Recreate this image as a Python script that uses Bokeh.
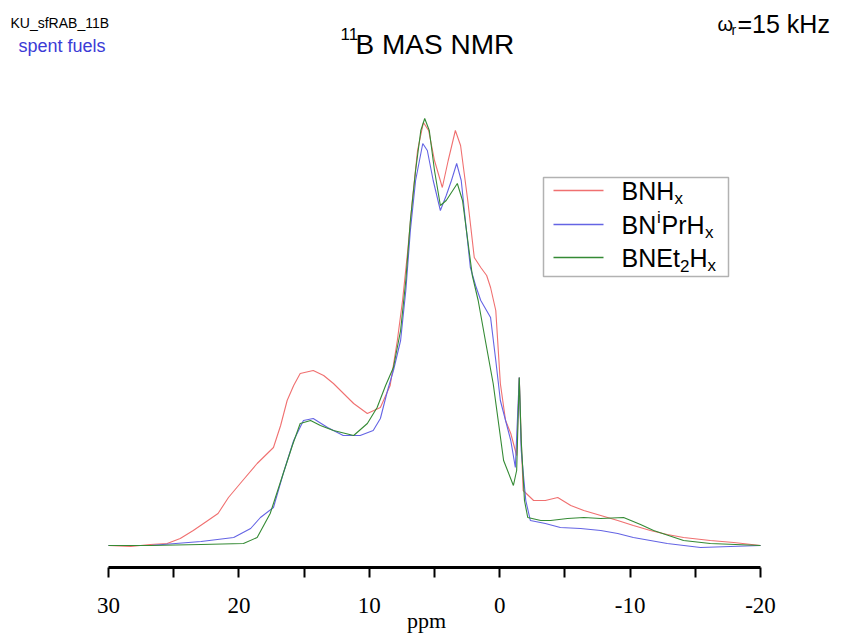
from bokeh.plotting import figure
from bokeh.models import Range1d, FixedTicker, Label, BoxAnnotation, Arrow
from bokeh.embed import file_html
from bokeh.resources import INLINE

# chemical shift (ppm) and intensity (a.u.)
red_ppm = [30.0, 28.3, 26.8, 25.5, 24.5, 23.5, 22.6, 21.6, 20.8, 19.9, 18.6, 17.35, 16.8, 16.3, 15.8, 15.3,
           14.3, 13.5, 12.75, 11.2, 10.15, 9.15, 8.4, 7.85, 7.45, 7.05, 6.7, 6.3, 5.85, 5.45, 5.0, 4.4,
           3.95, 3.4, 3.0, 2.45, 1.95, 1.45, 1.0, 0.7, 0.3, -0.05, -0.45, -0.85, -1.3, -1.5, -1.65, -1.8,
           -2.6, -3.5, -4.45, -5.45, -6.45, -7.75, -9.05, -10.25, -11.55, -12.85, -14.1, -16.15, -17.95, -20.0]
red_int = [0, -1, 1, 2, 7, 15, 23, 32, 48, 62, 82, 98, 120, 145, 160, 172,
           175, 170, 162, 142, 132, 138, 160, 205, 245, 295, 345, 395, 423, 415, 385, 358,
           385, 415, 400, 345, 288, 278, 270, 258, 235, 162, 125, 112, 90, 168, 105, 55,
           45, 45, 48, 40, 35, 30, 25, 20, 15, 11, 8, 5, 3, 0]

blue_ppm = [30.0, 26.8, 22.9, 20.4, 19.1, 18.35, 17.35, 16.6, 15.8, 15.05, 14.3, 13.2, 12.0, 10.7, 9.7, 9.15,
            8.6, 8.15, 7.6, 7.2, 6.85, 6.45, 5.9, 5.55, 5.1, 4.55, 4.1, 3.7, 3.3, 2.95, 2.55, 2.25,
            1.85, 1.45, 0.7, 0.3, -0.05, -0.85, -1.2, -1.5, -1.65, -2.0, -2.35, -3.5, -4.65, -6.2,
            -7.75, -9.05, -10.25, -11.55, -12.85, -15.4, -17.7, -20.0]
blue_int = [0, 0, 4, 8, 17, 28, 38, 72, 105, 125, 127, 118, 110, 110, 115, 127,
            155, 175, 205, 255, 315, 365, 402, 395, 365, 335, 350, 365, 382, 365, 315, 278,
            260, 245, 228, 185, 145, 105, 78, 168, 95, 45, 25, 22, 18, 17,
            15, 12, 8, 5, 2, -2, -1, 0]

green_ppm = [30.0, 26.8, 22.9, 19.65, 18.6, 17.6, 16.6, 15.9, 15.3, 14.5, 13.75, 12.75, 11.2, 10.15, 9.4, 8.75,
             8.15, 7.6, 7.2, 6.85, 6.45, 6.05, 5.75, 5.4, 5.0, 4.55, 4.1, 3.6, 3.25, 2.85, 2.45, 2.1,
             1.65, 1.1, 0.5, -0.3, -1.05, -1.3, -1.5, -1.65, -1.9, -2.15, -3.15, -3.9, -5.2, -6.45,
             -7.75, -9.5, -10.8, -11.8, -12.95, -14.1, -16.15, -20.0]
green_int = [0, 0, 1, 2, 8, 32, 72, 100, 122, 125, 120, 115, 110, 122, 138, 160,
             178, 215, 265, 325, 375, 415, 427, 415, 375, 340, 345, 355, 362, 345, 305, 270,
             245, 205, 162, 85, 60, 75, 168, 105, 45, 28, 25, 25, 27, 28,
             27, 28, 21, 15, 10, 5, 2, 0]

x_ticks = [30, 20, 10, 0, -10, -20]
x_tick_labels = ["30", "20", "10", "0", "-10", "-20"]
x_minor = [25, 15, 5, -5, -15]
x_axis_limits = (-20, 30)

RED = "#f07070"
BLUE = "#6464e4"
GREEN = "#348a34"

# layout: canvas 852x635, spectrum axis spans pixels 108..760, axis line at y=567
W, H = 852, 635
AX_L, AX_R, AX_Y = 108, 760, 567
BASE_Y = 545  # pixel row of the zero intensity
ppm_per_px = (x_axis_limits[1] - x_axis_limits[0]) / (AX_R - AX_L)
x_start = x_axis_limits[1] + AX_L * ppm_per_px
x_end = x_axis_limits[1] - (W - AX_L) * ppm_per_px
y_start = -(AX_Y - BASE_Y)
y_end = BASE_Y

p = figure(width=W, height=H, output_backend="svg", toolbar_location=None,
           x_range=Range1d(x_start, x_end), y_range=Range1d(y_start, y_end),
           min_border_left=0, min_border_right=0, min_border_top=0, min_border_bottom=H - AX_Y,
           y_axis_location=None)
p.grid.visible = False
p.outline_line_color = None
p.background_fill_color = "white"
p.border_fill_color = "white"

p.line(red_ppm, red_int, line_color=RED, line_width=1.1)
p.line(blue_ppm, blue_int, line_color=BLUE, line_width=1.1)
p.line(green_ppm, green_int, line_color=GREEN, line_width=1.1)

ax = p.xaxis[0]
ax.bounds = x_axis_limits
ax.ticker = FixedTicker(ticks=x_ticks, minor_ticks=x_minor)
ax.major_label_overrides = {t: s for t, s in zip(x_ticks, x_tick_labels)}
ax.axis_line_width = 3
ax.axis_line_color = "black"
ax.major_tick_in = 0
ax.major_tick_out = 10
ax.minor_tick_in = 0
ax.minor_tick_out = 10
ax.major_tick_line_width = 2
ax.minor_tick_line_width = 2
ax.major_label_text_font = "Liberation Serif"
ax.major_label_text_font_size = "23px"
ax.major_label_text_color = "black"
ax.major_label_standoff = 20
ax.axis_label = "ppm"
ax.axis_label_text_font = "Liberation Serif"
ax.axis_label_text_font_size = "22px"
ax.axis_label_text_font_style = "normal"
ax.axis_label_text_color = "black"
ax.axis_label_standoff = -8


def Y(py):
    return AX_Y - py


def lab(x, py, t, size, font="Liberation Sans", color="black", align="left", baseline="middle"):
    p.add_layout(Label(x=x, y=Y(py), x_units="screen", y_units="screen", text=t,
                       text_font=font, text_font_size=size, text_color=color,
                       text_align=align, text_baseline=baseline))


lab(10, 22, "KU_sfRAB_11B", "14px")
lab(18, 45, "spent fuels", "18px", color="#3b3bd6")
lab(340, 33, "11", "17px")
lab(355, 44, "B MAS NMR", "28px")
lab(717, 23, "ω", "20px")
lab(731, 29, "r", "14px")
lab(737, 23, "=15 kHz", "25px")

# legend
p.add_layout(BoxAnnotation(left=543, right=728, top=Y(177), bottom=Y(276),
                           left_units="screen", right_units="screen", top_units="screen", bottom_units="screen",
                           fill_alpha=0, line_color="black", line_width=1.5))
rows = [(190, RED), (224, BLUE), (257, GREEN)]
for py, c in rows:
    p.add_layout(Arrow(x_start=553, y_start=Y(py), x_end=603, y_end=Y(py), start_units="screen", end_units="screen",
                       start=None, end=None, line_color=c, line_width=1.5))
r1, r2, r3 = rows[0][0], rows[1][0], rows[2][0]
lab(621, r1, "BNH", "25px")
lab(674, r1 + 8, "x", "17px")
lab(621, r2, "BN", "25px")
lab(656.5, r2 - 7, "i", "17px")
lab(661, r2, "PrH", "25px")
lab(704.5, r2 + 8, "x", "17px")
lab(621, r3, "BNEt", "25px")
lab(679.5, r3 + 8, "2", "17px")
lab(689, r3, "H", "25px")
lab(707, r3 + 8, "x", "17px")

open("out.html", "w").write(file_html(p, INLINE))
